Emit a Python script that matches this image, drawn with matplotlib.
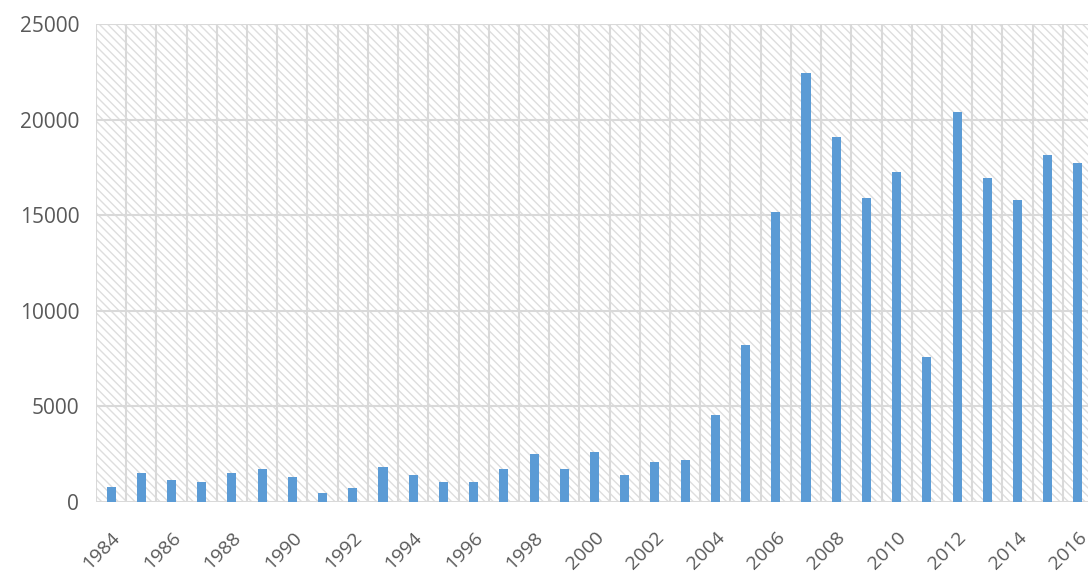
import matplotlib
matplotlib.use("Agg")
import matplotlib.pyplot as plt
import numpy as np

# years and values
years = list(range(1984, 2017))
values = [800, 1500, 1150, 1050, 1500, 1700, 1300, 490, 730, 1830,
          1400, 1050, 1050, 1730, 2530, 1730, 2630, 1400, 2090, 2200,
          4570, 8200, 15150, 22450, 19070, 15920, 17260, 7580, 20410, 16930,
          15800, 18160, 17710]
y_ticks = [0, 5000, 10000, 15000, 20000, 25000]

plt.rcParams['font.family'] = ['Open Sans', 'DejaVu Sans']
plt.rcParams['hatch.color'] = '#dedede'
plt.rcParams['hatch.linewidth'] = 1.0

fig = plt.figure(figsize=(10.88, 5.73), dpi=100)
ax = fig.add_axes([96 / 1088, 1 - 502 / 573, 997 / 1088, 478 / 573])

x = np.arange(len(years))
ax.set_xlim(-0.5, len(years) - 0.5)
ax.set_ylim(0, 25000)

# hatched background
ax.patch.set_facecolor('white')
ax.patch.set_hatch('\\\\\\\\')
ax.patch.set_edgecolor('#dedede')
ax.patch.set_linewidth(0)

# gridlines: horizontal at ticks, vertical at category boundaries
for yv in y_ticks:
    ax.axhline(yv, color='#d9d9d9', linewidth=1.5, zorder=1)
for b in np.arange(-0.5, len(years) + 0.5, 1):
    ax.axvline(b, color='#d9d9d9', linewidth=1.5, zorder=1)

ax.bar(x, values, width=0.3, color='#5b9bd5', zorder=3)

for s in ax.spines.values():
    s.set_visible(False)

ax.set_yticks(y_ticks)
ax.set_yticklabels([str(v) for v in y_ticks], fontsize=15, color='#595959')
ax.tick_params(axis='y', length=0, pad=12)

tick_idx = x[::2]
ax.set_xticks(tick_idx)
ax.set_xticklabels([str(years[i]) for i in tick_idx], fontsize=14,
                   color='#595959', rotation=45, ha='right',
                   rotation_mode='anchor')
ax.tick_params(axis='x', length=0, pad=19)

fig.savefig('out.png', dpi=100)
